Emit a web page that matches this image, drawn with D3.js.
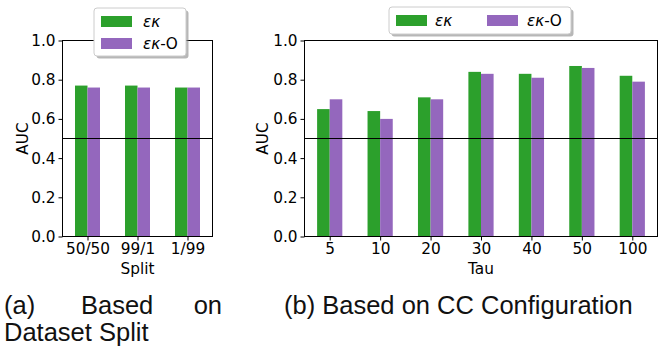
<!DOCTYPE html>
<html>
<head>
<meta charset="utf-8">
<script src="https://cdn.jsdelivr.net/npm/d3@7"></script>
<style>
  body { margin: 0; background: #fff; }
  svg text { font-family: "DejaVu Sans", sans-serif; }
  .caption { font-family: "Liberation Sans", Arial, sans-serif !important; font-size: 25.5px; fill: #111; }
</style>
</head>
<body>
<div id="chart"></div>
<script>
// Panel (a): split
const splitLabels = ["50/50", "99/1", "1/99"];
const splitEk = [0.77, 0.77, 0.76];
const splitEkO = [0.76, 0.76, 0.76];

// Panel (b): tau
const tauLabels = ["5", "10", "20", "30", "40", "50", "100"];
const tauEk = [0.65, 0.64, 0.71, 0.84, 0.83, 0.87, 0.82];
const tauEkO = [0.70, 0.60, 0.70, 0.83, 0.81, 0.86, 0.79];

const yTicks = [0, 0.2, 0.4, 0.6, 0.8, 1.0];
const GREEN = "#2ca02c", PURPLE = "#9467bd";
const FS = 15.3;

const svg = d3.select("#chart").append("svg")
  .attr("width", 668).attr("height", 350);

const defs = svg.append("defs");
defs.append("filter").attr("id", "shadow")
  .append("feGaussianBlur").attr("stdDeviation", 0.6);

function drawPanel(opt) {
  const { left, right, top, bottom, labels, s1, s2, xTitle, yTitleX } = opt;
  const x = d3.scaleLinear().domain([-0.5, labels.length - 0.5]).range([left, right]);
  const y = d3.scaleLinear().domain([0, 1]).range([bottom, top]);
  const unit = x(1) - x(0);
  const bw = unit * 0.25;
  const g = svg.append("g");

  // bars
  g.selectAll(".b1").data(s1).enter().append("rect")
    .attr("x", (d, i) => x(i) - bw).attr("y", d => y(d))
    .attr("width", bw).attr("height", d => y(0) - y(d)).attr("fill", GREEN);
  g.selectAll(".b2").data(s2).enter().append("rect")
    .attr("x", (d, i) => x(i)).attr("y", d => y(d))
    .attr("width", bw).attr("height", d => y(0) - y(d)).attr("fill", PURPLE);

  // 0.5 reference line
  g.append("line").attr("x1", left).attr("x2", right)
    .attr("y1", y(0.5)).attr("y2", y(0.5))
    .attr("stroke", "#000").attr("stroke-width", 1);

  // spines
  g.append("rect").attr("x", left).attr("y", top)
    .attr("width", right - left).attr("height", bottom - top)
    .attr("fill", "none").attr("stroke", "#000").attr("stroke-width", 1);

  // y axis
  const yAxis = g.append("g").attr("transform", `translate(${left},0)`)
    .call(d3.axisLeft(y).tickValues(yTicks).tickFormat(d3.format(".1f")).tickSize(4).tickPadding(3));
  yAxis.select(".domain").remove();
  yAxis.selectAll("text").attr("font-size", FS).attr("fill", "#000").attr("font-family", "DejaVu Sans");

  // x axis
  const xAxis = g.append("g").attr("transform", `translate(0,${bottom})`)
    .call(d3.axisBottom(x).tickValues(d3.range(labels.length)).tickFormat(i => labels[i]).tickSize(4).tickPadding(3));
  xAxis.select(".domain").remove();
  xAxis.selectAll("text").attr("font-size", FS).attr("fill", "#000").attr("font-family", "DejaVu Sans");

  g.append("text").attr("x", (left + right) / 2).attr("y", 274)
    .attr("text-anchor", "middle").attr("font-size", FS).text(xTitle);
  g.append("text")
    .attr("transform", `translate(${yTitleX},${(top + bottom) / 2}) rotate(-90)`)
    .attr("text-anchor", "middle").attr("font-size", FS).text("AUC");
  return g;
}

function legendLabel(g, xx, yy, withO) {
  const t = g.append("text").attr("x", xx).attr("y", yy).attr("font-size", FS);
  t.append("tspan").attr("font-style", "italic").text("εκ");
  if (withO) t.append("tspan").text("-O");
}

function drawLegend(box, items) {
  const g = svg.append("g");
  g.append("rect").attr("x", box.x + 2.5).attr("y", box.y + 2.5)
    .attr("width", box.w).attr("height", box.h).attr("rx", 3)
    .attr("fill", "#888").attr("opacity", 0.6).attr("filter", "url(#shadow)");
  g.append("rect").attr("x", box.x).attr("y", box.y)
    .attr("width", box.w).attr("height", box.h).attr("rx", 3)
    .attr("fill", "#fff").attr("stroke", "#ccc").attr("stroke-width", 1);
  items.forEach(it => {
    g.append("rect").attr("x", it.px).attr("y", it.py).attr("width", 31).attr("height", 11).attr("fill", it.color);
    legendLabel(g, it.tx, it.py + 11, it.o);
  });
}

drawPanel({ left: 62.5, right: 212.5, top: 40.5, bottom: 236.5,
  labels: splitLabels, s1: splitEk, s2: splitEkO, xTitle: "Split", yTitleX: 28 });
drawPanel({ left: 304.5, right: 657.5, top: 40.5, bottom: 236.5,
  labels: tauLabels, s1: tauEk, s2: tauEkO, xTitle: "Tau", yTitleX: 268 });

drawLegend({ x: 94, y: 8, w: 92, h: 48 }, [
  { px: 101, py: 16, color: GREEN, tx: 143, o: false },
  { px: 101, py: 38, color: PURPLE, tx: 143, o: true }
]);
drawLegend({ x: 389, y: 7, w: 182, h: 27 }, [
  { px: 396, py: 15, color: GREEN, tx: 435, o: false },
  { px: 487, py: 15, color: PURPLE, tx: 527, o: true }
]);

// captions
const cap = svg.append("g");
cap.append("text").attr("class", "caption").attr("x", 4).attr("y", 314).text("(a)");
cap.append("text").attr("class", "caption").attr("x", 81).attr("y", 314).text("Based");
cap.append("text").attr("class", "caption").attr("x", 222).attr("y", 314).attr("text-anchor", "end").text("on");
cap.append("text").attr("class", "caption").attr("x", 4).attr("y", 341).text("Dataset Split");
cap.append("text").attr("class", "caption").attr("x", 284).attr("y", 314).text("(b) Based on CC Configuration");
</script>
</body>
</html>
